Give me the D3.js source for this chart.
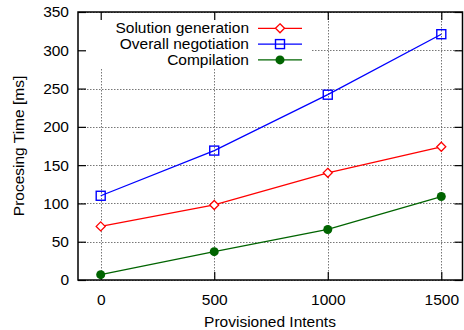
<!DOCTYPE html>
<html><head><meta charset="utf-8">
<script src="https://cdn.jsdelivr.net/npm/d3@7"></script>
<style>body{margin:0;background:#fff}svg{display:block}text{font-family:"Liberation Sans",Arial,Helvetica,sans-serif;font-size:15.5px;fill:#000}</style>
</head><body><svg id="c" width="464" height="330"></svg>
<script>
const intents = [0, 500, 1000, 1500];
const solutionGeneration = [70, 98, 140, 174];
const overallNegotiation = [110, 169, 242, 321];
const compilation = [7, 37, 66, 109];
const xTickValues = [0, 500, 1000, 1500];
const yTickValues = [0, 50, 100, 150, 200, 250, 300, 350];
const seriesNames = ["Solution generation", "Overall negotiation", "Compilation"];

const svg = d3.select("#c");
const L = 78, R = 462.5, T = 12, B = 280;
const x = d3.scaleLinear().domain([-100, 1600]).range([L, R + 1.5]);
const y = d3.scaleLinear().domain([0, 350]).range([B, T]);
const fmt = d3.format("d");

// grid
const g = svg.append("g").attr("stroke", "#777").attr("stroke-width", 1).attr("stroke-dasharray", "1.5,1.5");
xTickValues.forEach(v => g.append("line").attr("x1", Math.round(x(v))+0.5).attr("x2", Math.round(x(v))+0.5).attr("y1", T).attr("y2", B));
yTickValues.forEach(v => g.append("line").attr("y1", Math.round(y(v))+0.5).attr("y2", Math.round(y(v))+0.5).attr("x1", L).attr("x2", R));

// legend box (opaque)
svg.append("rect").attr("x", L + 1).attr("y", T + 1).attr("width", 312 - L - 1).attr("height", 68 - T - 1).attr("fill", "#fff");

// axes with inner ticks
const ax = svg.append("g");
ax.append("g").attr("transform", `translate(0,${B})`).call(d3.axisBottom(x).tickValues(xTickValues).tickFormat(fmt).tickSizeInner(-8).tickSizeOuter(0).tickPadding(14));
ax.append("g").attr("transform", `translate(0,${T})`).call(d3.axisTop(x).tickValues(xTickValues).tickSizeInner(-8).tickSizeOuter(0).tickFormat(""));
ax.append("g").attr("transform", `translate(${L},0)`).call(d3.axisLeft(y).tickValues(yTickValues).tickFormat(fmt).tickSizeInner(-8).tickSizeOuter(0).tickPadding(9));
ax.append("g").attr("transform", `translate(${R},0)`).call(d3.axisRight(y).tickValues(yTickValues).tickSizeInner(-8).tickSizeOuter(0).tickFormat(""));
ax.selectAll(".domain").remove();
ax.selectAll(".tick line").attr("stroke", "#000").attr("stroke-width", 1.2);
ax.selectAll("text").attr("font-size", 15.5).attr("font-family", '"Liberation Sans",Arial,sans-serif').attr("fill", "#000");
svg.append("rect").attr("x", L).attr("y", T).attr("width", R - L).attr("height", B - T).attr("fill", "none").attr("stroke", "#000").attr("stroke-width", 1.5);

// titles
svg.append("text").attr("x", 270).attr("y", 327).attr("text-anchor", "middle").text("Provisioned Intents");
svg.append("text").attr("transform", `translate(24,${(T + B) / 2}) rotate(-90)`).attr("text-anchor", "middle").text("Procesing Time [ms]");

const series = [
  {name: seriesNames[0], vals: solutionGeneration, color: "#ff0000", mark: "diamond"},
  {name: seriesNames[1], vals: overallNegotiation, color: "#0000ff", mark: "square"},
  {name: seriesNames[2], vals: compilation, color: "#006400", mark: "circle"}
];
function marker(sel, type, color, cx, cy) {
  if (type === "diamond") sel.append("path").attr("d", `M${cx},${cy-4.5}L${cx+4.5},${cy}L${cx},${cy+4.5}L${cx-4.5},${cy}Z`).attr("fill", "#fff").attr("stroke", color).attr("stroke-width", 1.3);
  else if (type === "square") sel.append("rect").attr("x", cx - 4.5).attr("y", cy - 4.5).attr("width", 9).attr("height", 9).attr("fill", "none").attr("stroke", color).attr("stroke-width", 1.4);
  else sel.append("circle").attr("cx", cx).attr("cy", cy).attr("r", 4.5).attr("fill", color);
}
const line = d3.line().x((d, i) => x(intents[i])).y(d => y(d));
series.forEach((s, k) => {
  svg.append("path").attr("d", line(s.vals)).attr("fill", "none").attr("stroke", s.color).attr("stroke-width", 1.3);
  const mg = svg.append("g");
  s.vals.forEach((v, i) => marker(mg, s.mark, s.color, x(intents[i]), y(v)));
  const ly = 28.3 + k * 15.8;
  svg.append("text").attr("x", 249).attr("y", ly + 5).attr("text-anchor", "end").text(s.name);
  svg.append("line").attr("x1", 258).attr("x2", 302).attr("y1", ly).attr("y2", ly).attr("stroke", s.color).attr("stroke-width", 1.3);
  marker(svg, s.mark, s.color, 280, ly);
});
</script></body></html>
